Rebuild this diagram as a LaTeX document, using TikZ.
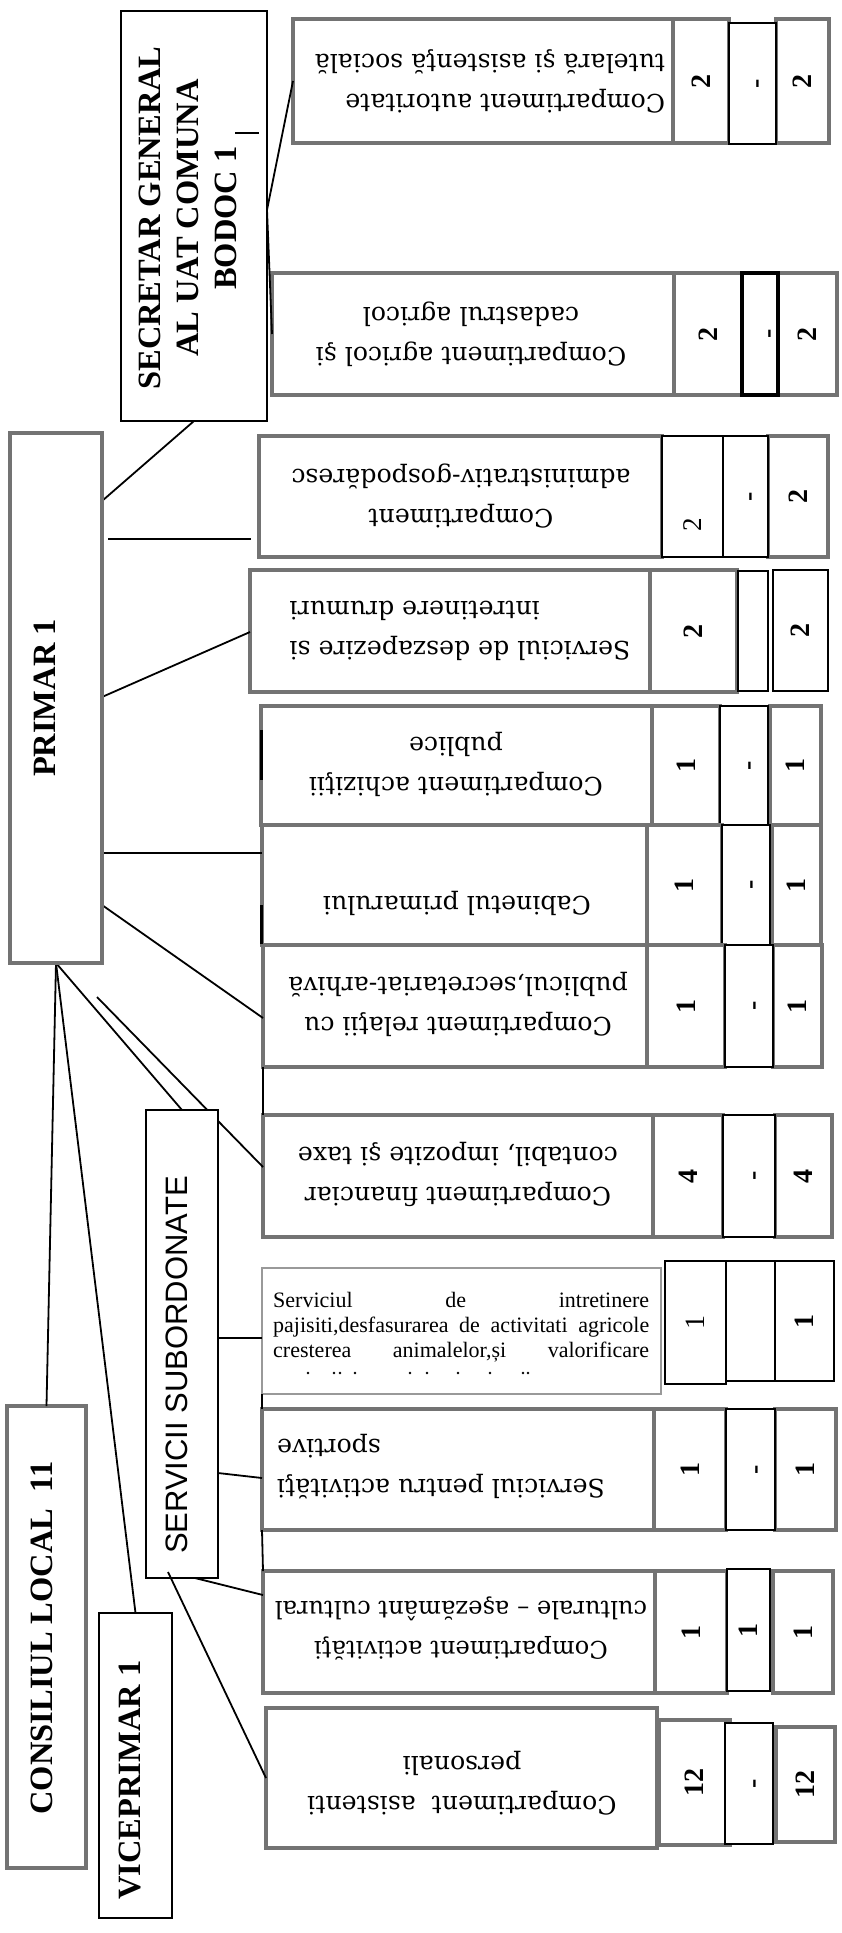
\documentclass[tikz,border=0pt]{standalone}
\usepackage{fontspec}
\setmainfont{Liberation Serif}
\newfontfamily\deja{DejaVu Serif}
\newfontfamily\arialf{Liberation Sans}
\usetikzlibrary{calc}
\definecolor{fgray}{HTML}{737373}
\begin{document}
\begin{tikzpicture}[x=1pt,y=-1pt,
  gbox/.style={draw=fgray,line width=3.5pt,fill=white,inner sep=0pt,outer sep=0pt,anchor=north west},
  bbox/.style={draw=black,line width=2pt,fill=white,inner sep=0pt,outer sep=0pt,anchor=north west},
  conn/.style={line width=1.8pt,black},
  dept/.style={font=\deja\fontsize{25.2}{40}\selectfont,rotate=180,align=center,inner sep=0pt},
  num/.style={font=\bfseries\fontsize{28}{28}\selectfont,rotate=90,inner sep=0pt},
  head/.style={font=\bfseries\fontsize{32.5}{38}\selectfont,rotate=90,align=center,inner sep=0pt}]
\fill[white] (0,0) rectangle (841,1933);
\useasboundingbox (0,0) rectangle (841,1933);

% ---------- helper coordinates ----------
\coordinate (sj) at (267,210);
\coordinate (y501) at (0,501);
\coordinate (a1) at (108,539);
\coordinate (a2) at (251,539);
\coordinate (y697) at (0,697);
\coordinate (y632) at (0,632);
\coordinate (y853) at (0,853);
\coordinate (y905) at (0,905);
\coordinate (y1018) at (0,1018);
\coordinate (f1) at (97,997);
\coordinate (y1167) at (0,1167);
\coordinate (y1338) at (0,1338);
\coordinate (y1473) at (0,1473);
\coordinate (y1478) at (0,1478);
\coordinate (s1) at (195,1578);
\coordinate (y1595) at (0,1595);
\coordinate (s2) at (168,1572);

% ---------- left column boxes ----------
\node[bbox,minimum width=146pt,minimum height=410pt] (sec) at (121,11) {};
\node[gbox,minimum width=92pt,minimum height=530pt] (primar) at (10,433) {};
\node[gbox,minimum width=79pt,minimum height=462pt] (consiliu) at (7,1406) {};
\node[bbox,minimum width=73pt,minimum height=305pt] (vice) at (99,1613) {};

% ---------- department rows ----------
% autoritate
\node[gbox,minimum width=380pt,minimum height=124pt] (autT) at (293,19) {};
\node[gbox,minimum width=56pt,minimum height=124pt] (autA) at (673,19) {};
\node[gbox,minimum width=53pt,minimum height=124pt] (autC) at (776,19) {};
\node[bbox,minimum width=47pt,minimum height=121pt] (autB) at (729,23) {};
% agricol
\node[gbox,minimum width=402pt,minimum height=122pt] (agrT) at (272,273) {};
\node[gbox,minimum width=68pt,minimum height=122pt] (agrA) at (674,273) {};
\node[gbox,minimum width=59pt,minimum height=122pt] (agrC) at (778,273) {};
\node[bbox,line width=4pt,minimum width=36pt,minimum height=122pt] (agrB) at (742,273) {};
% administrativ
\node[gbox,minimum width=403pt,minimum height=121pt] (admT) at (259,436) {};
\node[gbox,minimum width=60pt,minimum height=121pt] (admC) at (768,436) {};
\node[bbox,minimum width=61pt,minimum height=121pt] (admA) at (662,436) {};
\node[bbox,minimum width=45pt,minimum height=121pt] (admB) at (723,436) {};
% deszapezire
\node[gbox,minimum width=400pt,minimum height=122pt] (desT) at (250,570) {};
\node[gbox,minimum width=87pt,minimum height=122pt] (desA) at (650,570) {};
\node[bbox,minimum width=30pt,minimum height=120pt] (desB) at (738,571) {};
\node[bbox,minimum width=55pt,minimum height=121pt] (desC) at (773,570) {};
% achizitii
\node[gbox,minimum width=391pt,minimum height=119pt] (achT) at (261,706) {};
\node[gbox,minimum width=68pt,minimum height=119pt] (achA) at (652,706) {};
\node[gbox,minimum width=51pt,minimum height=119pt] (achC) at (770,706) {};
\node[bbox,minimum width=48pt,minimum height=119pt] (achB) at (720,706) {};
% cabinet
\node[gbox,minimum width=385pt,minimum height=120pt] (cabT) at (262,825) {};
\node[gbox,minimum width=75pt,minimum height=120pt] (cabA) at (647,825) {};
\node[gbox,minimum width=49pt,minimum height=120pt] (cabC) at (772,825) {};
\node[bbox,minimum width=48pt,minimum height=120pt] (cabB) at (722,825) {};
% relatii
\node[gbox,minimum width=384pt,minimum height=122pt] (relT) at (263,945) {};
\node[gbox,minimum width=78pt,minimum height=122pt] (relA) at (647,945) {};
\node[gbox,minimum width=49pt,minimum height=122pt] (relC) at (773,945) {};
\node[bbox,minimum width=48pt,minimum height=122pt] (relB) at (725,945) {};
% financiar
\node[gbox,minimum width=390pt,minimum height=122pt] (finT) at (263,1115) {};
\node[gbox,minimum width=70pt,minimum height=122pt] (finA) at (653,1115) {};
\node[gbox,minimum width=57pt,minimum height=122pt] (finC) at (775,1115) {};
\node[bbox,minimum width=52pt,minimum height=122pt] (finB) at (723,1115) {};
% pajisti
\node[gbox,draw=gray!80,line width=2.5pt,minimum width=399pt,minimum height=126pt] (pajT) at (262,1268) {};
\node[bbox,minimum width=61pt,minimum height=123pt] (pajA) at (665,1261) {};
\node[bbox,minimum width=49pt,minimum height=120pt] (pajB) at (726,1261) {};
\node[bbox,minimum width=59pt,minimum height=120pt] (pajC) at (775,1261) {};
% sportive
\node[gbox,minimum width=392pt,minimum height=121pt] (spoT) at (262,1409) {};
\node[gbox,minimum width=72pt,minimum height=121pt] (spoA) at (654,1409) {};
\node[gbox,minimum width=61pt,minimum height=121pt] (spoC) at (775,1409) {};
\node[bbox,minimum width=49pt,minimum height=121pt] (spoB) at (726,1409) {};
% culturale
\node[gbox,minimum width=392pt,minimum height=122pt] (culT) at (263,1571) {};
\node[gbox,minimum width=72pt,minimum height=122pt] (culA) at (655,1571) {};
\node[gbox,minimum width=60pt,minimum height=122pt] (culC) at (773,1571) {};
\node[bbox,minimum width=43pt,minimum height=122pt] (culB) at (727,1569) {};
% asistenti
\node[gbox,minimum width=391pt,minimum height=140pt] (asiT) at (266,1708) {};
\node[gbox,minimum width=71pt,minimum height=125pt] (asiA) at (659,1720) {};
\node[gbox,minimum width=59pt,minimum height=115pt] (asiC) at (776,1727) {};
\node[bbox,minimum width=48pt,minimum height=121pt] (asiB) at (725,1723) {};

% ---------- connectors ----------
\draw[conn] (autT.west) -- (sj) -- (agrT.west);
\draw[conn] (sec.south) -- (primar.east |- y501);
\draw[conn] (a1) -- (a2);
\draw[conn] (primar.east |- y697) -- (desT.west |- y632);
\draw[conn] (primar.east |- y853) -- (cabT.west |- y853);
\draw[conn] (primar.east |- y905) -- (relT.west |- y1018);
\draw[conn] (primar.south) -- (consiliu.north);
\draw[conn] (primar.south) -- (vice.north);
\draw[conn] (f1) -- (finT.west |- y1167);
\draw[conn] (relT.south west) -- (finT.north west);
\draw[conn] (pajT.south west) -- (spoT.north west);
\draw[conn] (spoT.south west) -- (culT.north west);

% SERVICII box over the free line
\node[bbox,minimum width=72pt,minimum height=468pt] (serv) at (146,1110) {};
\draw[conn] (primar.south) -- (serv.north);
\draw[conn] (serv.east |- y1338) -- (pajT.west |- y1338);
\draw[conn] (serv.east |- y1473) -- (spoT.west |- y1478);
\draw[conn] (s1) -- (culT.west |- y1595);
\draw[conn] (s2) -- (asiT.west);

\draw[fgray,line width=3.5pt] (primar.north west) rectangle (primar.south east);

% thick scan marks
\draw[line width=3pt] (261,730) -- (261,780);
\draw[line width=3pt] (261,905) -- (261,944);

% ---------- headings ----------
\node[head] (secL) at (188,218) {SECRETAR GENERAL\\AL UAT COMUNA\\BODOC 1};
\coordinate (tk1) at (235,133);
\coordinate (tk2) at (259,133);
\draw[line width=1.5pt] (tk1) -- (tk2);
\node[head] (primarL) at (45,698) {PRIMAR 1};
\node[head] (consiliuL) at (42,1638) {CONSILIUL LOCAL\ \ 11};
\node[head] (viceL) at (130,1780) {VICEPRIMAR 1};
\node[font=\arialf\fontsize{31}{31}\selectfont,rotate=90,inner sep=0pt] (servL) at (177,1365) {SERVICII SUBORDONATE};

% ---------- department texts ----------
\node[dept,align=left] (autL) at (490,81) {Compartiment autoritate\\tutelară şi asistenţă socială};
\node[dept] (agrL) at (471,334) {Compartiment agricol şi\\cadastrul agricol};
\node[dept] (admL) at (461,496) {Compartiment\\administrativ-gospodăresc};
\node[dept,align=right] (desL) at (460,631) {Serviciul de deszapezire si\\intretinere drumuri};
\node[dept] (achL) at (456,764) {Compartiment achiziţii\\publice};
\node[dept] (cabL) at (457,903) {Cabinetul primarului};
\node[dept] (relL) at (458,1004) {Compartiment relaţii cu\\publicul,secretariat-arhivă};
\node[dept] (finL) at (458,1174) {Compartiment financiar\\contabil, impozite şi taxe};
\node[dept,align=right] (spoL) at (441,1467) {Serviciul pentru activităţi\\sportive};
\node[dept,font=\deja\fontsize{24.2}{40}\selectfont] (culL) at (461,1628) {Compartiment activităţi\\culturale – aşezământ cultural};
\node[dept] (asiL) at (462,1783) {Compartiment\ \ asistenti\\personali};

% pajisti text (upright, justified)
\node[font=\fontsize{22}{25}\selectfont,inner sep=0pt,anchor=north west,align=left] (pajL) at (273,1292)
  {\makebox[376pt][s]{Serviciul de intretinere}\\
   \makebox[376pt][s]{pajisiti,desfasurarea de activitati agricole}\\
   \makebox[376pt][s]{cresterea animalelor,și valorificare}};
\foreach \px in {308,334,340,355,410,427,458,490,523,528}
  \fill (\px,1373) circle (1.3pt);

% ---------- numbers ----------
\node[num] (n1) at (autA.center) {2};
\node[num] (n2) at ($(autB.center)+(8,0)$) {-};
\node[num] (n3) at (autC.center) {2};
\node[num] (n4) at (agrA.center) {2};
\node[num] (n5) at (773,334) {-};
\node[num] (n6) at (agrC.center) {2};
\node[font=\fontsize{27}{27}\selectfont,rotate=90,inner sep=0pt] (n7) at (693,525) {2};
\node[num] (n8) at ($(admB.center)+(8,0)$) {-};
\node[num] (n9) at (admC.center) {2};
\node[num] (n10) at (desA.center) {2};
\node[num] (n11) at (desC.center) {2};
\node[num] (n12) at (achA.center) {1};
\node[num] (n13) at ($(achB.center)+(9,0)$) {-};
\node[num] (n14) at (achC.center) {1};
\node[num] (n15) at (cabA.center) {1};
\node[num] (n16) at ($(cabB.center)+(9,0)$) {-};
\node[num] (n17) at (cabC.center) {1};
\node[num] (n18) at (relA.center) {1};
\node[num] (n19) at ($(relB.center)+(9,0)$) {-};
\node[num] (n20) at (relC.center) {1};
\node[num] (n21) at (finA.center) {4};
\node[num] (n22) at ($(finB.center)+(9,0)$) {-};
\node[num] (n23) at (finC.center) {4};
\node[font=\fontsize{28}{28}\selectfont,rotate=90,inner sep=0pt] (n24) at (pajA.center) {1};
\node[num] (n25) at (pajC.center) {1};
\node[num] (n26) at (spoA.center) {1};
\node[num] (n27) at ($(spoB.center)+(9,0)$) {-};
\node[num] (n28) at (spoC.center) {1};
\node[num] (n29) at (culA.center) {1};
\node[num] (n30) at (culB.center) {1};
\node[num] (n31) at (culC.center) {1};
\node[num] (n32) at (asiA.center) {12};
\node[num] (n33) at ($(asiB.center)+(9,0)$) {-};
\node[num] (n34) at (asiC.center) {12};
\end{tikzpicture}
\end{document}
